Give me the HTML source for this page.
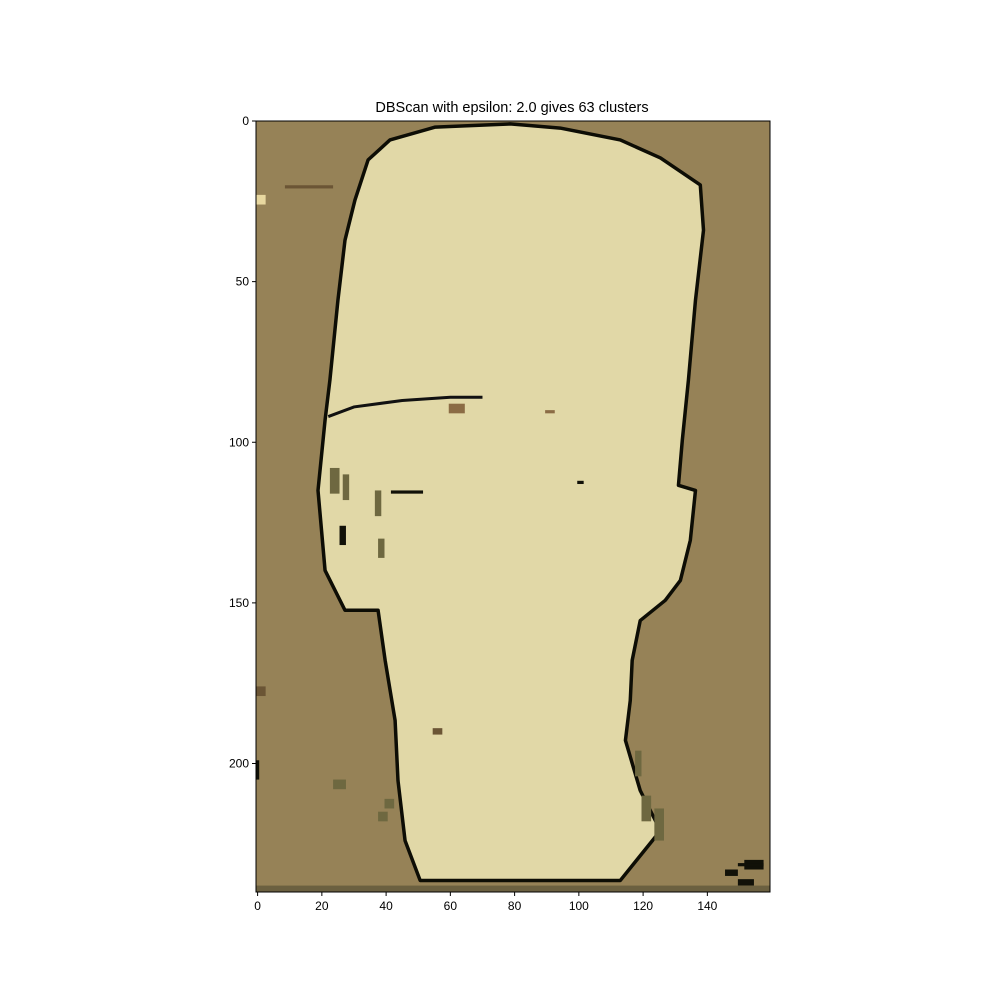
<!DOCTYPE html>
<html><head><meta charset="utf-8"><style>
body{margin:0;background:#fff}
svg text{font-family:"Liberation Sans",sans-serif}
</style></head><body>
<svg id="chart" width="1000" height="1000" viewBox="0 0 1000 1000" xmlns="http://www.w3.org/2000/svg">
<rect width="1000" height="1000" fill="#fff"/>
<text x="512" y="112" text-anchor="middle" font-size="14.5">DBScan with epsilon: 2.0 gives 63 clusters</text>
<g id="img"></g>
<g id="axes"></g>
</svg>
<script>
const outlineCols=[55.3,78.6,94.2,112.9,125.4,137.8,138.8,136.3,134.1,132.2,131,136.3,134.7,131.6,126.9,119.1,116.6,116,114.5,119.1,125.4,112.9,50.6,45.9,43.7,42.8,39.7,37.5,27.2,21,18.8,21,22.5,25,27.2,30.3,34.4,41.2];
const outlineRows=[1.9,0.9,2.2,5.9,11.5,19.9,34,55.8,80.7,99.4,113.4,115,130.5,143,149.2,155.5,167.9,180.4,192.8,208.4,220.9,236.4,236.4,224,205.3,186.6,167.9,152.3,152.3,139.9,115,93.1,80.7,55.8,37.1,24.6,12.1,5.9];
const brimCols=[22,30,45,60,70];
const brimRows=[92,89,87,86,86];
const xTicks=[0,20,40,60,80,100,120,140];
const yTicks=[0,50,100,150,200];
// speckle patches: col,row,w,h,color index
const patchCols=[60,9,23,37,38,24,40,38,118,120,124,146,152,150,0,0,0,27,55,26,42,100,90,150];
const patchRows=[88,20,108,115,130,205,211,215,196,210,214,233,230,236,176,199,23,110,189,126,115,112,90,231];
const patchW=[5,15,3,2,2,4,3,3,2,3,3,4,6,5,3,1,3,2,3,2,10,2,3,8];
const patchH=[3,1,8,8,6,3,3,3,8,8,10,2,3,2,3,6,3,8,2,6,1,1,1,1];
const patchC=[0,1,2,2,2,2,2,2,2,2,2,3,3,3,1,3,4,2,1,3,3,3,0,3];
const colors=['#8b6c45','#6b5535','#6e6840','#111108','#e8d8a0'];
const X0=256,S=3.2125,Y0=121;
const px=c=>X0+(c+0.5)*S, py=r=>Y0+(r+0.5)*S-1.6;
const NS='http://www.w3.org/2000/svg';
const img=document.getElementById('img'),ax=document.getElementById('axes');
function mk(tag,at,parent){const e=document.createElementNS(NS,tag);for(const k in at)e.setAttribute(k,at[k]);parent.appendChild(e);return e;}
let bg=mk('rect',{x:X0,y:Y0,width:160*S,height:240*S,fill:'#968257'},img);


let pts=outlineCols.map((c,i)=>px(c)+','+py(outlineRows[i])).join(' ');
let face=mk('polygon',{points:pts,fill:'#e1d8a7',stroke:'#0d0d05','stroke-width':3.5,'stroke-linejoin':'round'},img);


let bpts=brimCols.map((c,i)=>px(c)+','+py(brimRows[i])).join(' ');
let brim=mk('polyline',{points:bpts,fill:'none',stroke:'#111','stroke-width':3},img);


for(let i=0;i<patchCols.length;i++){
 let r=mk('rect',{x:X0+patchCols[i]*S,y:Y0+patchRows[i]*S,width:patchW[i]*S,height:patchH[i]*S,fill:colors[patchC[i]]},img);
 
 
}
let strip=mk('rect',{x:X0,y:Y0+238*S,width:160*S,height:2*S,fill:'#6b6040'},img);


let fr=mk('rect',{x:X0,y:Y0,width:160*S,height:240*S,fill:'none',stroke:'#000','stroke-width':1},ax);


xTicks.forEach(t=>{const x=px(t);mk('line',{x1:x,x2:x,y1:Y0+240*S,y2:Y0+240*S+4,stroke:'#000'},ax);
 let tx=mk('text',{x:x,y:Y0+240*S+18,'text-anchor':'middle','font-size':12},ax);tx.textContent=t;
 
 });
yTicks.forEach(t=>{const y=Y0+(t+0.5)*S-1.6;mk('line',{x1:X0,x2:X0-4,y1:y,y2:y,stroke:'#000'},ax);
 let tx=mk('text',{x:X0-7,y:y+4,'text-anchor':'end','font-size':12},ax);tx.textContent=t;
 
 });
</script>
</body></html>
